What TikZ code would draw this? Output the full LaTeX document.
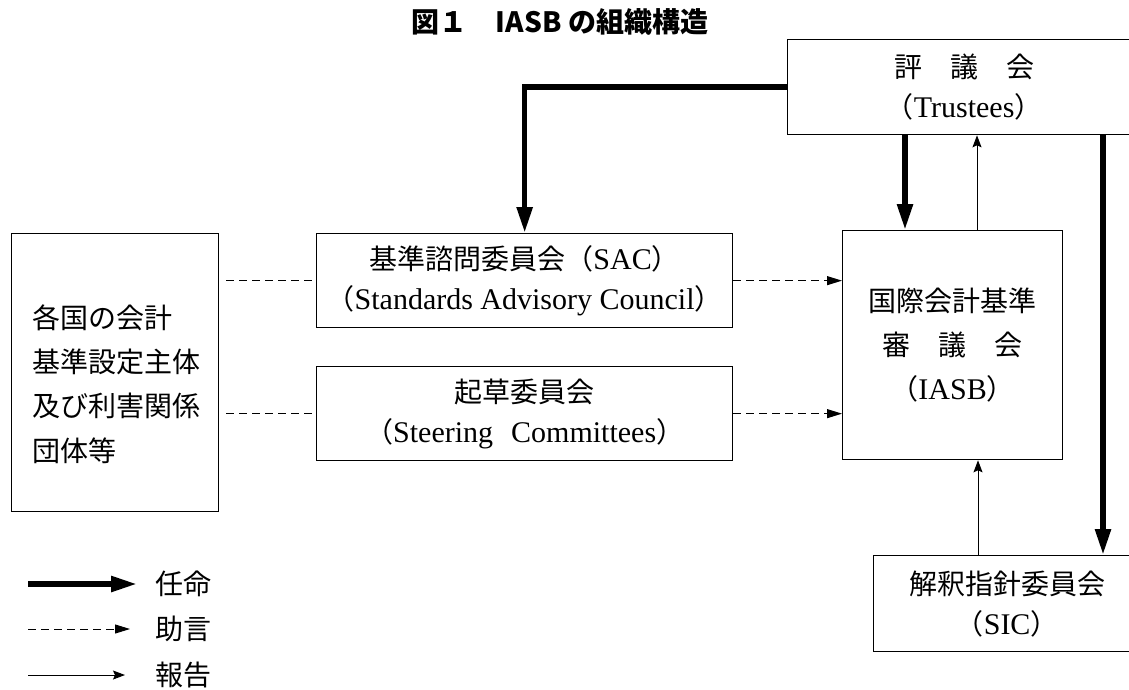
\documentclass[tikz,border=0pt]{standalone}
\usepackage{fontspec}
\setmainfont{Liberation Serif}
\newfontfamily\cjk{Noto Sans CJK JP}
\usetikzlibrary{arrows.meta,calc}
\newcommand\jp[1]{{\cjk\fontsize{28}{40}\selectfont #1}}
\begin{document}
\begin{tikzpicture}[x=1pt,y=-1pt,
  box/.style={draw, line width=1.3pt, inner sep=0pt, align=center, anchor=north west, font=\fontsize{30}{40}\selectfont},
  appoint/.style={line width=5.5pt, -{Triangle[length=26pt,width=15pt]}},
  advise/.style={line width=1pt, dash pattern=on 8pt off 5pt, -{Triangle[length=15pt,width=9pt]}},
  adviseline/.style={line width=1pt, dash pattern=on 8pt off 5pt},
  report/.style={line width=1pt, -{Stealth[length=12pt,width=9pt,inset=2pt]}},
  legendtext/.style={anchor=west, inner sep=0pt, font=\cjk\fontsize{28}{34}\selectfont},
]
\useasboundingbox (0,0) rectangle (1129,689);
\fill[white] (0,0) rectangle (1129,689);
\clip (0,0) rectangle (1129,689);

% title
\node[font=\cjk\bfseries\fontsize{28}{32}\selectfont] (title) at (560,22) {図１　IASB の組織構造};

% boxes
\node[box, minimum width=353pt, minimum height=95pt] (tr) at (787,39)
  {\jp{評　議　会}\\\jp{（}Trustees\jp{）}};
\node[box, minimum width=416pt, minimum height=94pt] (sac) at (316,233)
  {\jp{基準諮問委員会（}SAC\jp{）}\\\jp{（}Standards Advisory Council\jp{）}};
\node[box, minimum width=416pt, minimum height=94pt] (stc) at (316,366)
  {\jp{起草委員会}\\\jp{（}Steering\hspace{0.6em}Committees\jp{）}};
\node[box, minimum width=220pt, minimum height=229pt, font=\fontsize{30}{44}\selectfont] (iasb) at (842,230)
  {\jp{国際会計基準}\\\jp{審　議　会}\\\jp{（}IASB\jp{）}};
\node[box, minimum width=267pt, minimum height=96pt] (sic) at (873,555)
  {\jp{解釈指針委員会}\\\jp{（}SIC\jp{）}};
\node[box, minimum width=207pt, minimum height=278pt] (lb) at (11,233) {};
\node[anchor=west, align=left, inner sep=0pt, font=\cjk\fontsize{28}{44.3}\selectfont] (lbt) at (32,384)
  {各国の会計\\基準設定主体\\及び利害関係\\団体等};

% helper coordinates
\coordinate (iA) at ([xshift=63pt]iasb.north west);
\coordinate (iB) at ([xshift=135pt]iasb.north west);
\coordinate (sA) at ([xshift=230pt]sic.north west);
\coordinate (sB) at ([xshift=105pt]sic.north west);

% appointments
\draw[appoint] (tr.west) -| (sac.north);
\draw[appoint] (iA |- tr.south) -- (iA);
\draw[appoint] (sA |- tr.south) -- (sA);

% reports
\draw[report] (iB) -- (iB |- tr.south);
\draw[report] (sB) -- (sB |- iasb.south);

% advice
\draw[adviseline, shorten <=7pt] (lb.east |- sac.west) -- (sac.west);
\draw[adviseline, shorten <=7pt] (lb.east |- stc.west) -- (stc.west);
\draw[advise] (sac.east) -- (sac.east -| iasb.west);
\draw[advise] (stc.east) -- (stc.east -| iasb.west);

% legend
\coordinate (l1a) at (28,584); \coordinate (l1b) at (137,584);
\coordinate (l2a) at (28,629); \coordinate (l2b) at (130,629);
\coordinate (l3a) at (28,675); \coordinate (l3b) at (125,675);
\node[legendtext] (l1t) at (155,584) {任命};
\node[legendtext] (l2t) at (155,629) {助言};
\node[legendtext] (l3t) at (155,675) {報告};
\draw[appoint] (l1a) -- (l1b);
\draw[advise] (l2a) -- (l2b);
\draw[report] (l3a) -- (l3b);
\end{tikzpicture}
\end{document}
